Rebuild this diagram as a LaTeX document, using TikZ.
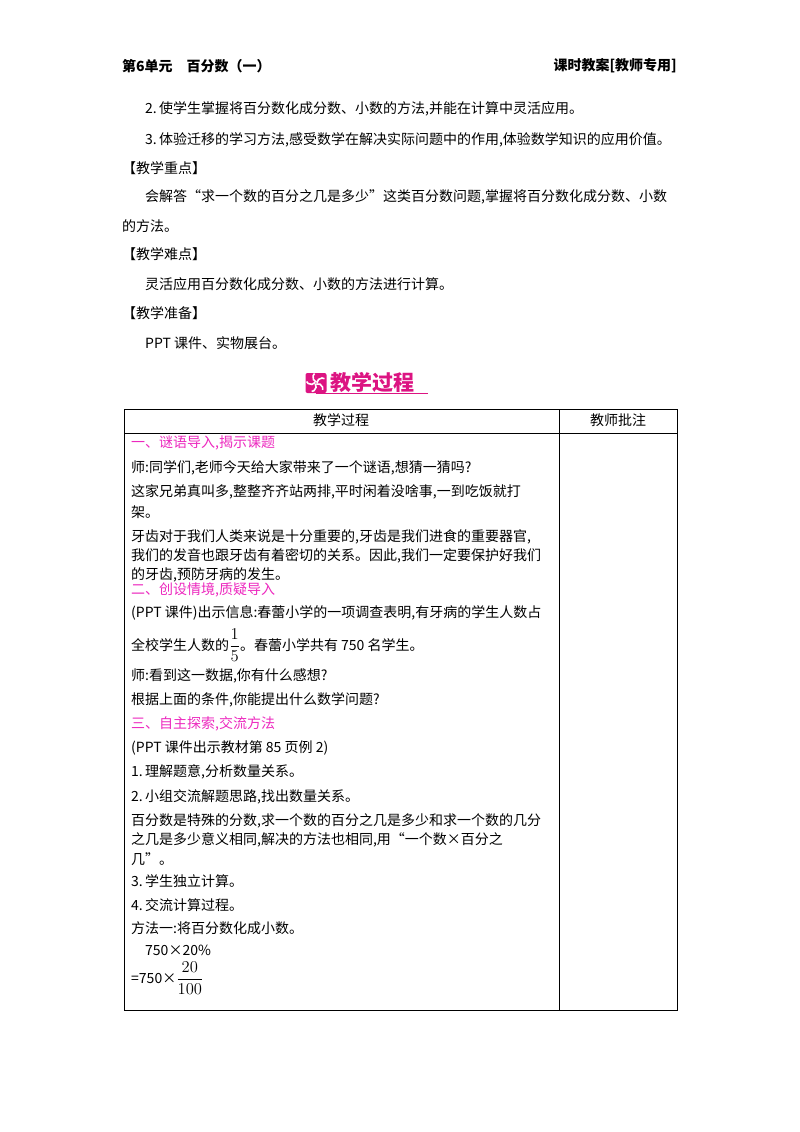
\documentclass[tikz,border=0pt]{standalone}
\usepackage{fontspec}
\usepackage{graphicx}
\newfontfamily\cjk{Noto Sans CJK SC}
\definecolor{mag}{RGB}{236,40,190}
\definecolor{banner}{RGB}{220,20,130}
\begin{document}
\begin{tikzpicture}[x=1pt,y=-1pt,
  t/.style={anchor=west,inner sep=0pt,font=\cjk\fontsize{14}{16}\selectfont},
  h/.style={t,text=mag},
  hd/.style={inner sep=0pt,font=\cjk\bfseries\fontsize{14}{16}\selectfont}]
\useasboundingbox (0,0) rectangle (800,1132);
% header
\node[hd,anchor=west] (h1) at (122,66) {第6单元\quad 百分数（一）};
\node[hd,anchor=east] (h2) at (677,66) {课时教案[教师专用]};
% intro
\node[t] (a1) at (145,109) {2.\,使学生掌握将百分数化成分数、小数的方法,并能在计算中灵活应用。};
\node[t] (a2) at (145,140) {3.\,体验迁移的学习方法,感受数学在解决实际问题中的作用,体验数学知识的应用价值。};
\node[t] (a3) at (122,168) {【教学重点】};
\node[t] (a4) at (145,197) {会解答“求一个数的百分之几是多少”这类百分数问题,掌握将百分数化成分数、小数};
\node[t] (a5) at (122,226) {的方法。};
\node[t] (a6) at (122,254) {【教学难点】};
\node[t] (a7) at (145,284) {灵活应用百分数化成分数、小数的方法进行计算。};
\node[t] (a8) at (122,313) {【教学准备】};
\node[t] (a9) at (145,343) {PPT 课件、实物展台。};
% banner
\node[draw=none,fill=banner,rounded corners=2pt,minimum width=21pt,minimum height=20pt,inner sep=0pt] (icon) at (316,383) {};
\foreach \a in {0,72,144,216,288}
  \draw[white,line width=1.6pt,rotate around={\a:(icon.center)}] ([xshift=1pt]icon.center) arc[start angle=180,end angle=60,radius=5pt];
\node[inner sep=0pt,anchor=west,text=banner,font=\cjk\bfseries\fontsize{21}{22}\selectfont] (bt) at (330,382) {教学过程};
\draw[banner,line width=0.8pt] (316,393.5) -- (428,393.5);
% table
\draw[line width=0.9pt] (124,409) rectangle (677,1010);
\draw[line width=0.6pt] (124,433) -- (677,433);
\draw[line width=0.6pt] (559,409) -- (559,1010);
\node[t,anchor=center] (c1) at (341,420) {教学过程};
\node[t,anchor=center] (c2) at (618,420) {教师批注};
\node[h] (b1) at (131,443) {一、谜语导入,揭示课题};
\node[t] (b2) at (131,468) {师:同学们,老师今天给大家带来了一个谜语,想猜一猜吗?};
\node[t] (b3) at (131,492) {这家兄弟真叫多,整整齐齐站两排,平时闲着没啥事,一到吃饭就打};
\node[t] (b4) at (131,512) {架。};
\node[t] (b5) at (131,537) {牙齿对于我们人类来说是十分重要的,牙齿是我们进食的重要器官,};
\node[t] (b6) at (131,556) {我们的发音也跟牙齿有着密切的关系。因此,我们一定要保护好我们};
\node[t] (b7) at (131,575) {的牙齿,预防牙病的发生。};
\node[h] (b8) at (131,590) {二、创设情境,质疑导入};
\node[t] (b9) at (131,613) {(PPT 课件)出示信息:春蕾小学的一项调查表明,有牙病的学生人数占};
\node[t] (b10) at (131,645) {全校学生人数的\scalebox{1.15}{$\displaystyle\frac{1}{5}$}。春蕾小学共有 750 名学生。};
\node[t] (b11) at (131,676) {师:看到这一数据,你有什么感想?};
\node[t] (b12) at (131,700) {根据上面的条件,你能提出什么数学问题?};
\node[h] (b13) at (131,724) {三、自主探索,交流方法};
\node[t] (b14) at (131,748) {(PPT 课件出示教材第 85 页例 2)};
\node[t] (b15) at (131,772) {1.\,理解题意,分析数量关系。};
\node[t] (b16) at (131,797) {2.\,小组交流解题思路,找出数量关系。};
\node[t] (b17) at (131,821) {百分数是特殊的分数,求一个数的百分之几是多少和求一个数的几分};
\node[t] (b18) at (131,840) {之几是多少意义相同,解决的方法也相同,用“一个数×百分之};
\node[t] (b19) at (131,859) {几”。};
\node[t] (b20) at (131,881) {3.\,学生独立计算。};
\node[t] (b21) at (131,905) {4.\,交流计算过程。};
\node[t] (b22) at (131,928) {方法一:将百分数化成小数。};
\node[t] (b23) at (145,950) {750×20\%};
\node[t] (b24) at (131,978) {=750×\scalebox{1.15}{$\displaystyle\frac{20}{100}$}};
\end{tikzpicture}
\end{document}
